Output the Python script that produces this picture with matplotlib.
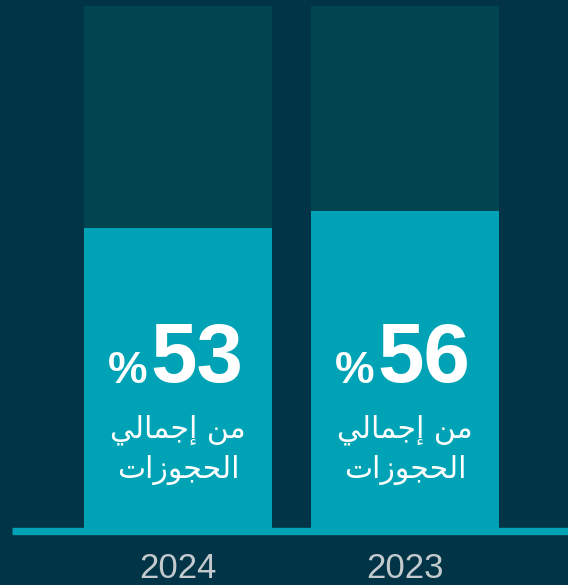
import matplotlib
matplotlib.use("Agg")
import matplotlib.pyplot as plt

# data
years = ["2024", "2023"]
shares = [53, 56]
full_scale = [100, 100]
# Arabic label, shaped by hand (presentation forms, visual order)
line1 = "\uFEF2\uFEDF\uFE8E\uFEE4\uFE9F\uFE87 \uFEE6\uFEE3"   # من إجمالي
line2 = "\uFE95\uFE8D\uFEAF\uFEEE\uFEA0\uFEA4\uFEDF\uFE8D"    # الحجوزات

bg = "#003446"
track = "#00454f"
fill = "#00a3b5"
year_col = "#c3cacd"

fig = plt.figure(figsize=(5.68, 5.85), dpi=100, facecolor=bg)
ax = fig.add_axes([12 / 568, 57 / 585, 556 / 568, 522 / 585])
ax.set_facecolor(bg)

x = range(len(years))
w = 188 / 227
ax.bar(x, full_scale, width=w, color=track, zorder=1)
ax.bar(x, shares, width=w, color=fill, zorder=2)

ax.set_xlim(-0.731, 1.718)
ax.set_ylim(0, 92.2)
ax.axis("off")

# baseline strip under the bars
ax.axhline(-0.5, color=fill, lw=5.3, clip_on=False, zorder=3,
           solid_capstyle="butt")

for i, (yr, v) in enumerate(zip(years, shares)):
    ax.annotate(str(v), xy=(i, 25.8), xytext=(-28, 0), textcoords="offset pixels",
                ha="left", va="baseline", color="white", fontsize=60,
                fontweight="bold", family="Liberation Sans")
    ax.annotate("%", xy=(i, 25.6), xytext=(-31, 0), textcoords="offset pixels",
                ha="right", va="baseline", color="white", fontsize=32,
                fontweight="bold", family="Liberation Sans")
    ax.text(i, 16.0, line1, ha="center", va="baseline", color="white",
            fontsize=21.5, family="DejaVu Sans")
    ax.text(i, 8.9, line2, ha="center", va="baseline", color="white",
            fontsize=21.5, family="DejaVu Sans")
    ax.annotate(yr, xy=(i, 0), xytext=(0, -50), textcoords="offset pixels",
                ha="center", va="baseline", color=year_col, fontsize=25,
                family="Liberation Sans", annotation_clip=False)

fig.savefig("out.png", dpi=100, facecolor=bg)
